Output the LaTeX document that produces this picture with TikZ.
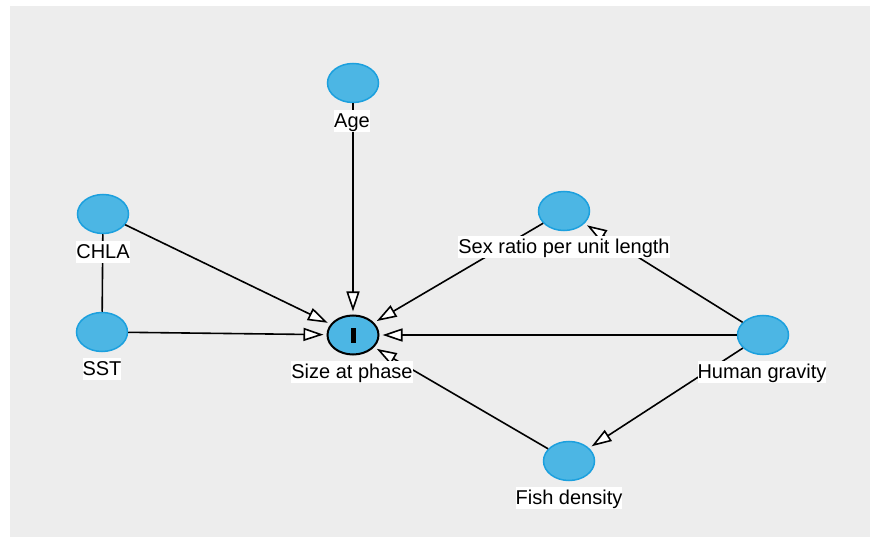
\documentclass[tikz,border=0pt]{standalone}
\usepackage{fontspec}
\setmainfont{Liberation Sans}
\usetikzlibrary{arrows.meta,shapes.geometric}
\definecolor{bggray}{RGB}{237,237,237}
\definecolor{nodefill}{RGB}{76,182,228}
\definecolor{nodeedge}{RGB}{28,160,222}
\begin{document}
\begin{tikzpicture}[x=1pt,y=-1pt,
  var/.style={ellipse, fill=nodefill, draw=nodeedge, line width=1.5pt, minimum width=51pt, minimum height=39pt, inner sep=0pt},
  outcome/.style={ellipse, fill=nodefill, draw=black, line width=2pt, minimum width=51pt, minimum height=39pt, inner sep=0pt},
  lbl/.style={fill=white, inner sep=0pt, text height=17.5pt, text depth=4pt, font=\fontsize{20}{24}\selectfont},
  edge/.style={line width=1.6pt, draw=black},
  arr/.style={edge, -{Triangle[length=20pt, width=13pt, fill=white]}, shorten >=3pt}
]
\useasboundingbox[fill=white] (0,0) rectangle (870,537);
\fill[bggray] (10,6) rectangle (870,537);

\node[var] (age) at (353,83) {};
\node[var] (chla) at (103,214) {};
\node[var] (sst) at (102,332) {};
\node[outcome] (size) at (353,335) {};
\node[fill=black, minimum width=5pt, minimum height=15pt, inner sep=0pt] (bar) at (size.center) {};
\node[var] (sex) at (564,211) {};
\node[var] (human) at (763,335) {};
\node[var] (fish) at (569,461) {};

\draw[arr] (age) -- (size);
\draw[arr] (chla) -- (size);
\draw[arr] (sst) -- (size);
\draw[edge] (chla) -- (sst);
\draw[arr] (sex) -- (size);
\draw[arr] (human) -- (size);
\draw[arr] (human) -- (sex);
\draw[arr] (human) -- (fish);
\draw[arr] (fish) -- (size);

\node[lbl] (agel) at (352,121) {Age};
\node[lbl] (chlal) at (103,252) {CHLA};
\node[lbl] (sstl) at (102,369) {SST};
\node[lbl] (sizel) at (352,372) {Size at phase};
\node[lbl] (sexl) at (564,247) {Sex ratio per unit length};
\node[lbl] (humanl) at (762,372) {Human gravity};
\node[lbl] (fishl) at (569,498) {Fish density};
\end{tikzpicture}
\end{document}
